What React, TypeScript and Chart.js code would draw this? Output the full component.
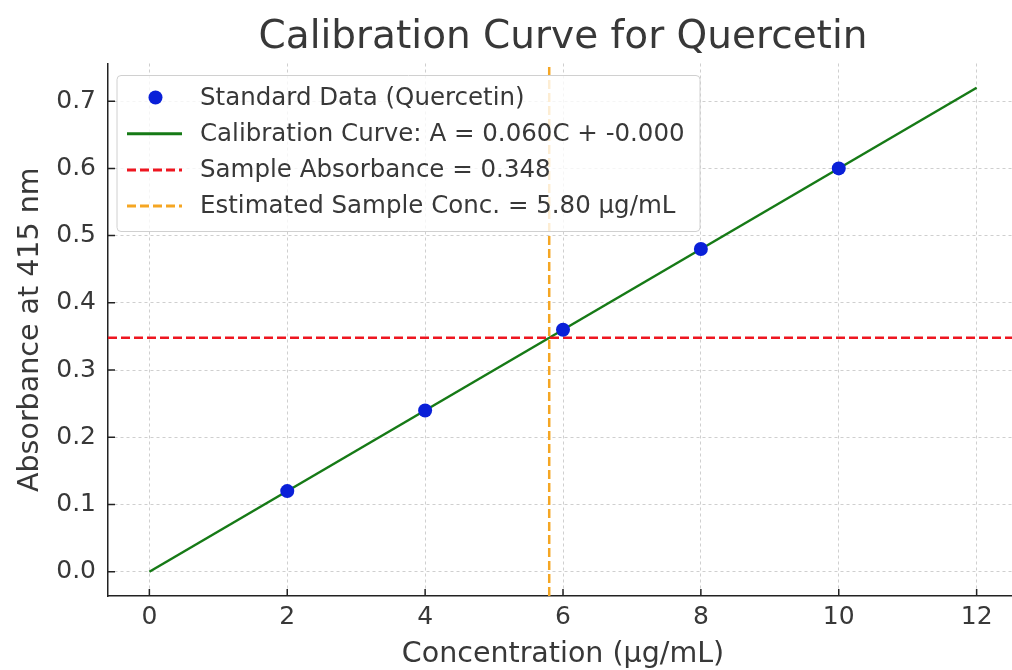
import React, { useEffect, useRef } from "react";
import { Chart, registerables } from "chart.js";

Chart.register(...registerables);

// ---- Data ----
const concentrations = [2, 4, 6, 8, 10];
const absorbances = [0.12, 0.24, 0.36, 0.48, 0.6];
const fitX = [0, 12];
const fitY = [0, 0.72];
const sampleAbsorbance = 0.348;
const estimatedConc = 5.8;
const xLimits = [-0.6, 12.6];
const yLimits = [-0.036, 0.756];
const xTicks = [0, 2, 4, 6, 8, 10, 12];
const yTicks = [0, 0.1, 0.2, 0.3, 0.4, 0.5, 0.6, 0.7];
const titleText = "Calibration Curve for Quercetin";
const xLabel = "Concentration (µg/mL)";
const yLabel = "Absorbance at 415 nm";
const legendLabels = [
  "Standard Data (Quercetin)",
  "Calibration Curve: A = 0.060C + -0.000",
  "Sample Absorbance = 0.348",
  "Estimated Sample Conc. = 5.80 µg/mL",
];

const FONT = "'DejaVu Sans', 'Noto Sans', sans-serif";
const TEXT = "#383838";
const AXIS = "#222222";
const BLUE = "#0a20d8";
const GREEN = "#167a16";
const RED = "#ee1620";
const ORANGE = "#f5a623";

const titlePlugin = {
  id: "customTitle",
  afterDraw(chart: any) {
    const { ctx, chartArea } = chart;
    ctx.save();
    ctx.font = `39px ${FONT}`;
    ctx.fillStyle = TEXT;
    ctx.textAlign = "center";
    ctx.textBaseline = "middle";
    ctx.fillText(titleText, (chartArea.left + chartArea.right) / 2, 38);
    ctx.restore();
  },
};

// inward tick marks (matplotlib direction='in')
const inwardTicksPlugin = {
  id: "inwardTicks",
  afterDraw(chart: any) {
    const { ctx, chartArea, scales } = chart;
    const len = 7;
    ctx.save();
    ctx.strokeStyle = AXIS;
    ctx.lineWidth = 1.5;
    ctx.beginPath();
    xTicks.forEach((v) => {
      const px = scales.x.getPixelForValue(v);
      ctx.moveTo(px, chartArea.bottom);
      ctx.lineTo(px, chartArea.bottom - len);
    });
    yTicks.forEach((v) => {
      const py = scales.y.getPixelForValue(v);
      ctx.moveTo(chartArea.left, py);
      ctx.lineTo(chartArea.left + len, py);
    });
    ctx.stroke();
    ctx.restore();
  },
};

const legendPlugin = {
  id: "customLegend",
  afterDatasetsDraw(chart: any) {
    const { ctx, chartArea } = chart;
    const bx = chartArea.left + 9;
    const by = chartArea.top + 12;
    const bw = 583;
    const bh = 156;
    ctx.save();
    ctx.beginPath();
    const r = 4;
    ctx.moveTo(bx + r, by);
    ctx.lineTo(bx + bw - r, by);
    ctx.quadraticCurveTo(bx + bw, by, bx + bw, by + r);
    ctx.lineTo(bx + bw, by + bh - r);
    ctx.quadraticCurveTo(bx + bw, by + bh, bx + bw - r, by + bh);
    ctx.lineTo(bx + r, by + bh);
    ctx.quadraticCurveTo(bx, by + bh, bx, by + bh - r);
    ctx.lineTo(bx, by + r);
    ctx.quadraticCurveTo(bx, by, bx + r, by);
    ctx.closePath();
    ctx.fillStyle = "rgba(255,255,255,0.8)";
    ctx.fill();
    ctx.strokeStyle = "#d0d0d0";
    ctx.lineWidth = 1;
    ctx.stroke();

    const rowY0 = by + 22;
    const rowStep = 36.2;
    const hx0 = bx + 10;
    const hx1 = bx + 65;
    const tx = bx + 83;
    ctx.font = `24.5px ${FONT}`;
    ctx.textBaseline = "middle";
    ctx.textAlign = "left";
    legendLabels.forEach((label, i) => {
      const y = rowY0 + i * rowStep;
      if (i === 0) {
        ctx.beginPath();
        ctx.arc((hx0 + hx1) / 2 + 1, y, 7, 0, Math.PI * 2);
        ctx.fillStyle = BLUE;
        ctx.fill();
      } else {
        ctx.beginPath();
        ctx.lineWidth = 3;
        ctx.strokeStyle = i === 1 ? GREEN : i === 2 ? RED : ORANGE;
        ctx.setLineDash(i === 1 ? [] : [9, 4]);
        ctx.moveTo(hx0, y);
        ctx.lineTo(hx1, y);
        ctx.stroke();
        ctx.setLineDash([]);
      }
      ctx.fillStyle = TEXT;
      ctx.fillText(label, tx, y + 1);
    });
    ctx.restore();
  },
};

export default function App() {
  const ref = useRef<HTMLCanvasElement | null>(null);

  useEffect(() => {
    if (!ref.current) return;
    const gridCommon = {
      color: "rgba(175,175,175,0.6)",
      lineWidth: 1,
      drawTicks: false,
      tickLength: 0,
    };
    const borderCommon = {
      display: true,
      color: AXIS,
      width: 1.5,
      dash: [3, 3],
    };
    const chart = new Chart(ref.current, {
      type: "scatter",
      data: {
        datasets: [
          {
            label: legendLabels[0],
            data: concentrations.map((c, i) => ({ x: c, y: absorbances[i] })),
            pointRadius: 7,
            pointBackgroundColor: BLUE,
            pointBorderWidth: 0,
            showLine: false,
            order: 0,
          },
          {
            label: legendLabels[3],
            data: [
              { x: estimatedConc, y: yLimits[0] },
              { x: estimatedConc, y: yLimits[1] },
            ],
            showLine: true,
            pointRadius: 0,
            borderColor: ORANGE,
            borderWidth: 2.5,
            borderDash: [9, 4],
            order: 1,
          },
          {
            label: legendLabels[2],
            data: [
              { x: xLimits[0], y: sampleAbsorbance },
              { x: xLimits[1], y: sampleAbsorbance },
            ],
            showLine: true,
            pointRadius: 0,
            borderColor: RED,
            borderWidth: 2.5,
            borderDash: [9, 4],
            order: 2,
          },
          {
            label: legendLabels[1],
            data: fitX.map((x, i) => ({ x, y: fitY[i] })),
            showLine: true,
            pointRadius: 0,
            borderColor: GREEN,
            borderWidth: 2.5,
            order: 3,
          },
        ],
      },
      options: {
        animation: false,
        responsive: false,
        devicePixelRatio: 1,
        events: [],
        layout: { padding: { top: 63.5, right: 12, bottom: 0, left: 0 } },
        plugins: {
          legend: { display: false },
          tooltip: { enabled: false },
          title: { display: false },
        },
        scales: {
          x: {
            type: "linear",
            min: xLimits[0],
            max: xLimits[1],
            afterBuildTicks: (scale: any) => {
              scale.ticks = xTicks.map((v) => ({ value: v }));
            },
            afterFit: (scale: any) => {
              scale.height = 74;
            },
            ticks: {
              color: TEXT,
              font: { family: FONT, size: 25 },
              padding: 6,
              maxRotation: 0,
              autoSkip: false,
              callback: (v: any) => String(v),
            },
            grid: gridCommon as any,
            border: borderCommon as any,
            title: {
              display: true,
              text: xLabel,
              color: TEXT,
              font: { family: FONT, size: 28.5, lineHeight: 1.05 },
              padding: { top: 0, bottom: 0 },
            },
          },
          y: {
            type: "linear",
            min: yLimits[0],
            max: yLimits[1],
            afterBuildTicks: (scale: any) => {
              scale.ticks = yTicks.map((v) => ({ value: v }));
            },
            afterFit: (scale: any) => {
              scale.width = 108;
            },
            ticks: {
              color: TEXT,
              font: { family: FONT, size: 25 },
              padding: 12,
              autoSkip: false,
              callback: (v: any) => Number(v).toFixed(1),
            },
            grid: gridCommon as any,
            border: borderCommon as any,
            title: {
              display: true,
              text: yLabel,
              color: TEXT,
              font: { family: FONT, size: 28.5, lineHeight: 1.2 },
              padding: { top: 13, bottom: 0 },
            },
          },
        },
      },
      plugins: [titlePlugin, legendPlugin, inwardTicksPlugin],
    } as any);
    return () => chart.destroy();
  }, []);

  return (
    <div
      style={{
        position: "fixed",
        left: 0,
        top: 0,
        width: 1012,
        height: 670,
        overflow: "hidden",
        background: "#ffffff",
      }}
    >
      <canvas ref={ref} width={1030} height={670} style={{ display: "block" }} />
    </div>
  );
}
